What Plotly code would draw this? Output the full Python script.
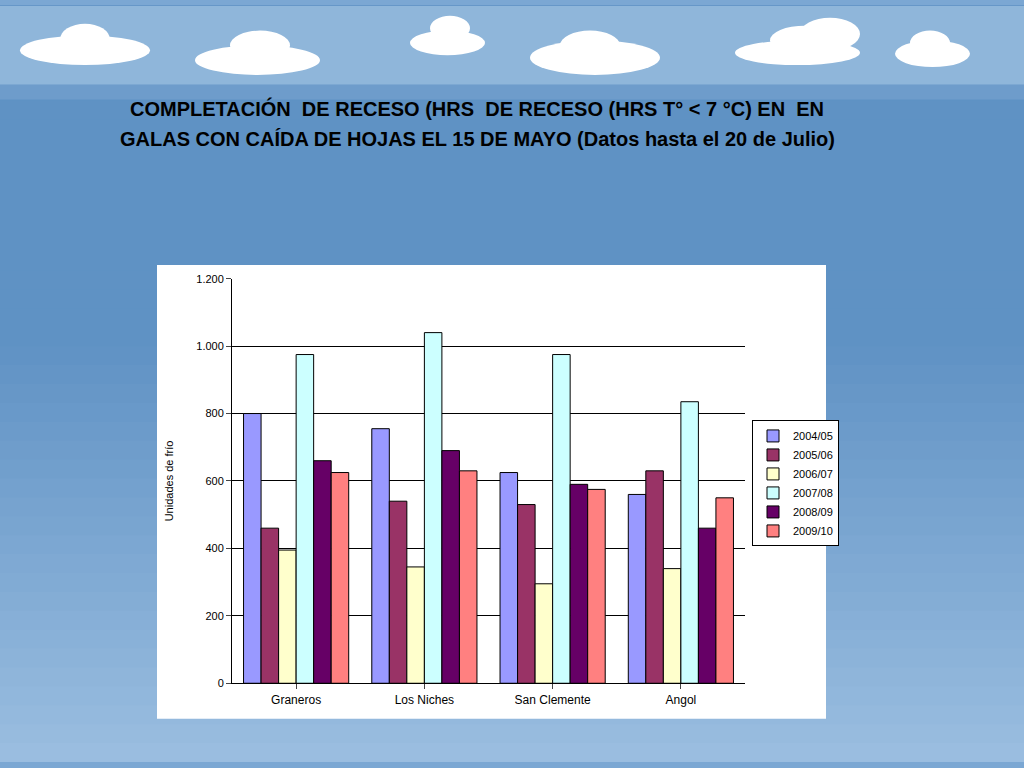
import plotly.graph_objects as go

categories = ["Graneros", "Los Niches", "San Clemente", "Angol"]
series_names = ["2004/05", "2005/06", "2006/07", "2007/08", "2008/09", "2009/10"]
s0405 = [800, 755, 625, 560]
s0506 = [460, 540, 530, 630]
s0607 = [395, 345, 295, 340]
s0708 = [975, 1040, 975, 835]
s0809 = [660, 690, 590, 460]
s0910 = [625, 630, 575, 550]
series_values = [s0405, s0506, s0607, s0708, s0809, s0910]
colors = ["#9999FF", "#993366", "#FFFFCC", "#CCFFFF", "#660066", "#FF8080"]
tick_vals = [0, 200, 400, 600, 800, 1000, 1200]
tick_text = ["0", "200", "400", "600", "800", "1.000", "1.200"]
title_lines = ["COMPLETACIÓN  DE RECESO (HRS  DE RECESO (HRS T° < 7 °C) EN  EN",
               "GALAS CON CAÍDA DE HOJAS EL 15 DE MAYO (Datos hasta el 20 de Julio)"]

fig = go.Figure()
for name, vals, c in zip(series_names, series_values, colors):
    fig.add_trace(go.Bar(x=categories, y=vals, name=name, marker=dict(color=c, line=dict(color="black", width=1))))

shapes = []
n = 40
mid = (0x5f, 0x92, 0xc4); bot = (0x9a, 0xbd, 0xe0)
for i in range(n):
    y0 = i / n; y1 = (i + 1) / n
    f = min(y0 / 0.55, 1)
    col = tuple(int(bot[k] + (mid[k] - bot[k]) * f) for k in range(3))
    shapes.append(dict(type="rect", xref="paper", yref="paper", x0=0, x1=1, y0=y0, y1=y1 + 0.001,
                       fillcolor="rgb(%d,%d,%d)" % col, line=dict(width=0), layer="below"))
shapes.append(dict(type="rect", xref="paper", yref="paper", x0=0, x1=1, y0=1 - 80 / 768, y1=1,
                   fillcolor="#8fb6da", line=dict(width=0), layer="below"))
shapes.append(dict(type="rect", xref="paper", yref="paper", x0=0, x1=1, y0=1 - 95 / 768, y1=1 - 80 / 768,
                   fillcolor="#6e9ccb", line=dict(width=0), layer="below"))
clouds = [(20, 30, 150, 60), (60, 18, 110, 50), (195, 40, 320, 70), (230, 25, 290, 55),
          (410, 25, 485, 50), (430, 10, 470, 35), (530, 35, 660, 70), (560, 25, 620, 55),
          (735, 35, 860, 60), (770, 20, 840, 50), (800, 12, 860, 45), (895, 35, 970, 62), (910, 25, 950, 50)]
for x0, y0, x1, y1 in clouds:
    shapes.append(dict(type="circle", xref="paper", yref="paper", x0=x0 / 1024, x1=x1 / 1024,
                       y0=1 - y1 / 768, y1=1 - y0 / 768, fillcolor="white", line=dict(width=0), layer="below"))
shapes.append(dict(type="rect", xref="paper", yref="paper", x0=157 / 1024, x1=826 / 1024,
                   y0=1 - 724 / 768, y1=1 - 263 / 768, fillcolor="white", line=dict(width=0), layer="below"))

annotations = [dict(text="<b>%s</b>" % t, xref="paper", yref="paper", x=477 / 1024, y=1 - yy / 768,
                    showarrow=False, font=dict(size=20, family="Arial", color="black"))
               for t, yy in zip(title_lines, [90, 122])]

fig.update_layout(
    width=1024, height=768, margin=dict(l=0, r=0, t=0, b=0),
    paper_bgcolor="#7ba7d3", plot_bgcolor="rgba(0,0,0,0)",
    barmode="group", bargap=0.18, bargroupgap=0,
    shapes=shapes, annotations=annotations,
    font=dict(family="Arial", color="black"),
    xaxis=dict(domain=[232 / 1024, 745 / 1024], showline=True, linecolor="black", ticks="outside",
               tickfont=dict(size=12), showgrid=False),
    yaxis=dict(domain=[1 - 688 / 768, 1 - 277 / 768], range=[0, 1200], tickvals=tick_vals, ticktext=tick_text,
               showgrid=True, gridcolor="black", gridwidth=1, showline=True, linecolor="black",
               ticks="outside", tickfont=dict(size=11),
               title=dict(text="Unidades de frío", font=dict(size=11), standoff=20)),
    legend=dict(x=752 / 1024, y=1 - 421 / 768, xanchor="left", yanchor="top", bgcolor="white",
                bordercolor="black", borderwidth=1, font=dict(size=11), tracegroupgap=0, itemwidth=30),
)
fig.write_html("out.html", post_script="document.body.style.margin='0';",
               config={"displayModeBar": False})
